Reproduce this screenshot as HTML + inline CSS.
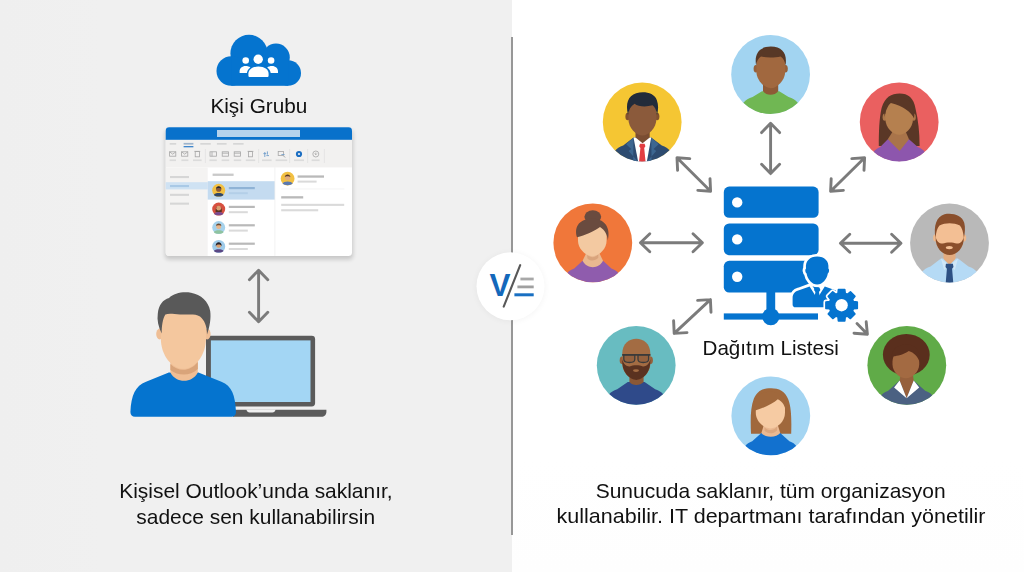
<!DOCTYPE html>
<html lang="tr">
<head>
<meta charset="utf-8">
<title>Kişi Grubu ve Dağıtım Listesi</title>
<style>
html,body{margin:0;padding:0;background:#fff;}
body{width:1024px;height:572px;overflow:hidden;position:relative;font-family:"Liberation Sans",sans-serif;}
svg{position:absolute;left:0;top:0;display:block;}
text{font-family:"Liberation Sans",sans-serif;fill:#111111;}
</style>
</head>
<body>
<svg width="1024" height="572" viewBox="0 0 1024 572">
<defs>
  <linearGradient id="bgL" x1="0" y1="0" x2="1" y2="0">
    <stop offset="0" stop-color="#efefef"/>
    <stop offset="0.2" stop-color="#f0f0f0"/>
    <stop offset="1" stop-color="#f0f0f0"/>
  </linearGradient>
  <linearGradient id="bgR" x1="0" y1="0" x2="0" y2="1">
    <stop offset="0" stop-color="#ffffff"/>
    <stop offset="0.8" stop-color="#ffffff"/>
    <stop offset="1" stop-color="#fefefe"/>
  </linearGradient>
  <filter id="soft" x="-20%" y="-20%" width="140%" height="140%">
    <feGaussianBlur stdDeviation="2.2"/>
  </filter>
  <filter id="soft2" x="-30%" y="-30%" width="160%" height="160%">
    <feGaussianBlur stdDeviation="3"/>
  </filter>
  <clipPath id="av"><circle cx="0" cy="0" r="39.5"/></clipPath>
  <g id="arrowV">
    <!-- vertical double arrow, centred at 0,0, half-length given by scale; drawn for length 54 -->
    <path d="M0 -27 L0 27 M-10 -17 L0 -27 L10 -17 M-10 17 L0 27 L10 17" fill="none" stroke="#787878" stroke-width="2.8" stroke-linecap="round" stroke-linejoin="round"/>
  </g>
</defs>

<!-- ============ BACKGROUNDS ============ -->
<rect x="0" y="0" width="512" height="572" fill="url(#bgL)"/>
<rect x="512" y="0" width="512" height="572" fill="url(#bgR)"/>
<!-- divider -->
<rect x="511" y="37" width="2" height="498" fill="#979797"/>

<!-- ============ LEFT PANEL ============ -->
<g id="left">
<!--LEFT-START-->
  <!-- cloud -->
  <g id="cloud">
    <g fill="#0574cf">
      <circle cx="249" cy="53.4" r="18.6"/>
      <circle cx="276" cy="57.4" r="13.8"/>
      <circle cx="231.3" cy="71" r="14.8"/>
      <circle cx="288.2" cy="73" r="12.8"/>
      <rect x="231.3" y="58" width="56.9" height="27.8"/>
    </g>
    <!-- people in cloud -->
    <g fill="#ffffff">
      <circle cx="245.7" cy="60.5" r="3.3"/>
      <circle cx="271.1" cy="60.5" r="3.3"/>
      <path d="M239.6 73 V71.4 C239.6 68.4 242 66 245.6 66 C247.6 66 249.2 66.5 250.4 67.5 C248.3 69 247.2 71 246.9 73 Z"/>
      <path d="M278 73 V71.4 C278 68.400 275.600 66 272 66 C270 66 268.400 66.500 267.200 67.500 C269.300 69 270.400 71 270.700 73 Z"/>
      <circle cx="258.2" cy="59.3" r="4.7"/>
      <path d="M248.4 75.4 V73.6 C248.4 69.6 252.4 66.6 258.4 66.6 C264.4 66.6 268.6 69.6 268.6 73.6 V75.4 C268.6 76.4 268 77 267 77 H250 C249 77 248.4 76.4 248.4 75.4 Z"/>
    </g>
  </g>

  <!-- outlook window -->
  <g id="owin">
    <rect x="165" y="130" width="188" height="129.4" rx="4" fill="#000" opacity="0.17" filter="url(#soft)"/>
    <rect x="165.7" y="127.3" width="186.3" height="128.6" rx="3.4" fill="#ffffff"/>
    <!-- title bar -->
    <path d="M165.7 140 V130.7 Q165.7 127.3 169.1 127.3 H348.6 Q352 127.3 352 130.7 V140 Z" fill="#0871cb"/>
    <rect x="217" y="130" width="83" height="7" fill="#b4d2ec"/>
    <!-- ribbon -->
    <rect x="165.7" y="139.8" width="186.3" height="27.6" fill="#f2f1f0"/>
    <g fill="#d6d6d6">
      <rect x="169.7" y="143" width="6.5" height="1.7"/>
      <rect x="200.3" y="143" width="10.5" height="1.7"/>
      <rect x="216.9" y="143" width="9.7" height="1.7"/>
      <rect x="233.1" y="143" width="10.5" height="1.7"/>
    </g>
    <rect x="183.6" y="142.9" width="9.8" height="1.7" fill="#9db4cc"/>
    <rect x="183.6" y="146.1" width="9.8" height="1.2" fill="#2d7cc9"/>
    <!-- ribbon icons -->
    <g fill="none" stroke="#a6a6a6" stroke-width="0.8">
      <rect x="169.6" y="151.8" width="6.2" height="4.4"/><path d="M169.6 151.8 L172.7 154.2 L175.8 151.8"/>
      <rect x="181.6" y="151.8" width="6.2" height="4.4"/><path d="M181.6 151.8 L184.7 154.2 L187.8 151.8"/>
      <rect x="195.2" y="151.6" width="4.2" height="5.2"/><path d="M194.4 151.4 H200.2"/>
      <rect x="210" y="151.8" width="6.4" height="4.4"/><path d="M212 151.8 V156.2"/>
      <rect x="222.2" y="151.8" width="6.4" height="4.4"/><path d="M222.2 153.2 H228.6"/>
      <rect x="234.2" y="151.8" width="6.4" height="4.4"/><path d="M234.2 153.2 H240.6"/>
      <rect x="248.4" y="151.6" width="4.2" height="5.2"/><path d="M247.6 151.4 H253.4"/>
      <rect x="278.2" y="151.4" width="5.2" height="4.2"/><path d="M283 155.6 L285.4 157.4"/>
      <circle cx="315.8" cy="154" r="3"/><path d="M315.8 152.6 V154.4 M314.6 153.6 L315.8 154.8 L317 153.6"/>
    </g>
    <g fill="none" stroke="#6f9dcb" stroke-width="0.9">
      <path d="M264.8 152 V157 M267.4 151.4 V154.6 M263.4 153.6 H266.2 M266.4 155.6 H269"/>
      <path d="M281.4 154.6 H284.6"/>
    </g>
    <circle cx="299" cy="154" r="3.1" fill="#1b6ec2"/>
    <circle cx="299" cy="154" r="1.1" fill="#f2f1f0"/>
    <g fill="#dbdbdb">
      <rect x="169.6" y="159.4" width="6.4" height="1.7"/>
      <rect x="181.4" y="159.4" width="7" height="1.7"/>
      <rect x="193" y="159.4" width="8.6" height="1.7"/>
      <rect x="209.4" y="159.4" width="7.4" height="1.7"/>
      <rect x="221.6" y="159.4" width="7.6" height="1.7"/>
      <rect x="233.8" y="159.4" width="7.4" height="1.7"/>
      <rect x="245.8" y="159.4" width="9.4" height="1.7"/>
      <rect x="262" y="159.4" width="9.6" height="1.7"/>
      <rect x="275.6" y="159.4" width="11.6" height="1.7"/>
      <rect x="294" y="159.4" width="10" height="1.7"/>
      <rect x="311.6" y="159.4" width="8" height="1.7"/>
    </g>
    <g stroke="#dcdcdc" stroke-width="0.6">
      <path d="M205.4 149 V163 M258.6 149 V163 M289.6 149 V163 M307.6 149 V163 M324.4 149 V163"/>
    </g>
    <!-- left nav -->
    <path d="M165.7 167.4 H207.7 V255.9 H169.1 Q165.7 255.9 165.7 252.5 Z" fill="#f4f3f2"/>
    <rect x="165.7" y="182.2" width="42" height="7.2" fill="#cfe2f3"/>
    <g fill="#d6d6d6">
      <rect x="170" y="176" width="19" height="2.1"/>
      <rect x="170" y="193.8" width="19" height="2.1"/>
      <rect x="170" y="202.6" width="19" height="2.1"/>
    </g>
    <rect x="170" y="185" width="19" height="2.1" fill="#a9c9e6"/>
    <!-- list -->
    <rect x="207.7" y="181.2" width="67.2" height="18.4" fill="#c4dbf0"/>
    <rect x="212.6" y="173.6" width="21" height="2.3" fill="#c9c9c9"/>
    <path d="M274.9 167.4 V255.9" stroke="#ececec" stroke-width="0.7"/>
    <g fill="#b9b9b9">
      <rect x="228.8" y="205.8" width="26" height="2.2"/>
      <rect x="228.8" y="224.2" width="26" height="2.2"/>
      <rect x="228.8" y="242.6" width="26" height="2.2"/>
      <rect x="297.6" y="175.4" width="26.4" height="2.3"/>
      <rect x="281.2" y="196.2" width="22" height="2.3"/>
    </g>
    <rect x="228.8" y="187" width="26" height="2.2" fill="#8fb3d6"/>
    <rect x="228.8" y="192.2" width="19" height="2" fill="#b3cfe8"/>
    <g fill="#dadada">
      <rect x="228.8" y="211.2" width="19" height="2"/>
      <rect x="228.8" y="229.6" width="19" height="2"/>
      <rect x="228.8" y="248" width="19" height="2"/>
      <rect x="297.6" y="180.6" width="19" height="2"/>
      <rect x="281.2" y="203.8" width="63" height="2.1"/>
      <rect x="281.2" y="209.2" width="37" height="2.1"/>
    </g>
    <path d="M281.2 189 H344.4" stroke="#ececec" stroke-width="0.6"/>
    <!-- list avatars -->
    <g>
      <circle cx="218.7" cy="190.3" r="6.5" fill="#f2c043"/>
      <circle cx="218.7" cy="189.2" r="2.6" fill="#8c5a3a"/>
      <path d="M216 188.8 C216 185.4 221.4 185.4 221.4 188.8 C220.6 187.6 216.8 187.6 216 188.8Z" fill="#2a2a38"/>
      <path d="M213.9 195 C214.6 192.4 222.8 192.4 223.5 195 C222 197 215.4 197 213.9 195Z" fill="#2f4668"/>
      <circle cx="218.7" cy="209.1" r="6.5" fill="#d7503f"/>
      <path d="M215.6 212 C214.8 204 222.6 204 221.8 212Z" fill="#5a3424"/>
      <circle cx="218.7" cy="208.2" r="2.4" fill="#d9a071"/>
      <path d="M214.1 213.9 C214.8 211.4 222.6 211.4 223.3 213.9 C221.8 215.8 215.6 215.8 214.1 213.9Z" fill="#7a4a8e"/>
      <circle cx="218.7" cy="227.5" r="6.5" fill="#a6d2ec"/>
      <circle cx="218.7" cy="226.4" r="2.5" fill="#e8b78e"/>
      <path d="M216.1 226 C216.1 222.8 221.3 222.8 221.3 226 C220.4 224.9 217 224.9 216.1 226Z" fill="#6b4a33"/>
      <path d="M213.9 232.2 C214.6 229.6 222.8 229.6 223.5 232.2 C222 234.2 215.4 234.2 213.9 232.2Z" fill="#8fc3a0"/>
      <circle cx="218.7" cy="246.4" r="6.5" fill="#9ecbea"/>
      <circle cx="218.7" cy="245.3" r="2.5" fill="#d9a071"/>
      <path d="M215.7 246.4 C215.3 241 222.1 241 221.7 246.4 C221 243.9 216.4 243.9 215.7 246.4Z" fill="#26242e"/>
      <path d="M213.9 251.1 C214.6 248.5 222.8 248.5 223.5 251.1 C222 253.1 215.4 253.1 213.9 251.1Z" fill="#5a4784"/>
      <circle cx="287.6" cy="178.7" r="6.9" fill="#f2c043"/>
      <circle cx="287.6" cy="177.5" r="2.7" fill="#e0ab7c"/>
      <path d="M284.8 177.1 C284.8 173.6 290.4 173.6 290.4 177.1 C289.5 175.9 285.7 175.9 284.8 177.1Z" fill="#5a3a28"/>
      <path d="M282.6 183.6 C283.4 180.9 291.8 180.9 292.6 183.6 C291 185.8 284.2 185.8 282.6 183.6Z" fill="#5a78b0"/>
    </g>
  </g>

  <!-- vertical double arrow -->
  <path d="M258.600 270.400 V321.600 M249.400 279.800 L258.600 270.200 L267.800 279.800 M249.400 312.200 L258.600 321.800 L267.800 312.200" fill="none" stroke="#7b7b7b" stroke-width="2.9" stroke-linecap="round" stroke-linejoin="round"/>

  <!-- laptop -->
  <g id="laptop">
    <rect x="206" y="335.8" width="109.1" height="70.6" rx="3.4" fill="#5b5b5b"/>
    <rect x="210.9" y="340.4" width="99.6" height="61.6" fill="#a3d6f4"/>
    <path d="M233 409.8 H326.400 V411.800 C326.400 414.800 324.200 416.800 321.400 416.800 H233 Z" fill="#5b5b5b"/>
    <path d="M246.400 409.600 H275.600 C275.200 411.600 274 412.600 272.400 412.600 H249.600 C248 412.600 246.800 411.600 246.400 409.600Z" fill="#efefef"/>
  </g>

  <!-- person -->
  <g id="person">
    <!-- body -->
    <path d="M130.4 412 C131.2 395 135.4 386 146 381.8 L168.8 372.6 H198.4 L221.4 381.8 C231.8 386 235.200 395 236 412 C236 415 234.2 416.8 231.6 416.8 H135 C132.2 416.8 130.4 415 130.4 412 Z" fill="#0574cf"/>
    <!-- neck -->
    <path d="M170.4 356 H197.8 V372.4 C192 383.6 176 383.6 170.4 372.4 Z" fill="#efbe95"/>
    <path d="M170.4 364 C178 372 190 372 197.8 362 V369 C190 376.6 178 376 170.4 370 Z" fill="#d9a47a"/>
    <!-- ears -->
    <ellipse cx="159.6" cy="334" rx="3.4" ry="5.4" fill="#efbe95"/>
    <ellipse cx="207.2" cy="334" rx="3.4" ry="5.4" fill="#efbe95"/>
    <!-- face -->
    <path d="M160.8 322 C160.8 306 171 301 183.4 301 C195.8 301 206 306 206 322 V338 C206 356 194.6 368.8 183.4 368.8 C172.2 368.8 160.8 356 160.8 338 Z" fill="#f4c79e"/>
    <!-- hair -->
    <path d="M161.7 333.4 C158.4 327 156.8 320 157.8 313.6 C158.6 305 163 299.6 169 298 C174 293 183 291.4 191 292.8 C201 294.600 208.600 301.600 210.200 311 C211.200 318 209.800 327 207 334.400 C207 326 204.500 320 200 316.400 C195 313.400 188 315 180 314.400 C174 314 168.800 313 165.400 314.400 C162.600 319 161.600 326 161.700 333.400 Z" fill="#595959"/>
  </g>
<!--LEFT-END-->
</g>

<!-- ============ CENTER BADGE ============ -->
<g id="badge">
  <circle cx="510.5" cy="287" r="34.4" fill="#000" opacity="0.04" filter="url(#soft2)"/>
  <circle cx="510.5" cy="286.3" r="34" fill="#ffffff"/>
  <text x="500.1" y="295.8" text-anchor="middle" font-size="31" font-weight="bold" style="fill:#1468bb" textLength="21" lengthAdjust="spacingAndGlyphs">V</text>
  <path d="M520.2 265.2 L503.7 306.6" stroke="#585858" stroke-width="2.1" fill="none" stroke-linecap="round"/>
  <path d="M520.4 279 H533.7" stroke="#a8a8a8" stroke-width="2.8" fill="none"/>
  <path d="M517.4 286.9 H533.7" stroke="#a0a0a0" stroke-width="2.8" fill="none"/>
  <path d="M514.4 294.8 H533.7" stroke="#186fc2" stroke-width="3" fill="none"/>
</g>

<!-- ============ RIGHT PANEL ============ -->
<g id="right">
<!--RIGHT-START-->
  <!-- arrows -->
  <g fill="none" stroke="#7b7b7b" stroke-width="2.9" stroke-linecap="round" stroke-linejoin="round">
    <!-- top vertical -->
    <path d="M770.6 123.4 V173.4 M761.6 132.6 L770.6 123.2 L779.6 132.6 M761.6 164.200 L770.6 173.600 L779.6 164.200"/>
    <!-- top-left diagonal -->
    <path d="M677 157.800 L710.600 191.200 M677.600 170.400 L677 157.800 L689.800 158.600 M710 178.600 L710.600 191.200 L697.800 190.400"/>
    <!-- top-right diagonal -->
    <path d="M864.600 157.800 L830.600 191.200 M864 170.400 L864.600 157.800 L851.800 158.600 M831.200 178.600 L830.600 191.200 L843.400 190.400"/>
    <!-- left horizontal -->
    <path d="M640.600 242.800 H702.200 M649.800 233.800 L640.400 242.800 L649.800 251.800 M693 233.800 L702.400 242.800 L693 251.800"/>
    <!-- right horizontal -->
    <path d="M840.600 243.200 H900.800 M849.800 234.200 L840.400 243.200 L849.800 252.200 M891.600 234.200 L901 243.200 L891.600 252.200"/>
    <!-- bottom-left diagonal -->
    <path d="M710.400 299.600 L674.200 333.400 M711 312.200 L710.400 299.600 L697.600 300.400 M673.600 320.800 L674.200 333.400 L687 332.600"/>
    <!-- bottom-right diagonal -->
    <path d="M857 323.600 L867.400 334.200 M866.200 321.800 L867.400 334.200 L854 333.200"/>
  </g>

  <!-- server -->
  <g id="server" fill="#0574cf">
    <rect x="723.8" y="186.6" width="94.8" height="31.2" rx="5.4"/>
    <rect x="723.8" y="223.4" width="94.8" height="31.8" rx="5.4"/>
    <rect x="723.8" y="260.8" width="94.8" height="31.8" rx="5.4"/>
    <rect x="766.4" y="290" width="8.8" height="26"/>
    <rect x="723.8" y="313.4" width="94.2" height="6.2"/>
    <circle cx="770.8" cy="316.6" r="8.6"/>
    <circle cx="737.2" cy="202.4" r="5.2" fill="#ffffff"/>
    <circle cx="737.2" cy="239.4" r="5.2" fill="#ffffff"/>
    <circle cx="737.2" cy="276.8" r="5.2" fill="#ffffff"/>
  </g>

  <!-- admin user + gear with white halo -->
  <g id="admin">
    <g fill="#ffffff" stroke="#ffffff" stroke-width="5.4" stroke-linejoin="round">
      <path d="M806 268.4 C805.2 261 810 256.6 817.2 256.6 C824.4 256.6 829.2 261 828.4 268.4 C829.6 269.4 829.2 272.6 827.8 273.6 C826.8 279.6 822.4 284.6 817.2 284.6 C812 284.6 807.600 279.6 806.600 273.6 C805.200 272.6 804.800 269.400 806 268.4 Z"/>
      <path d="M795.6 307.3 C793.6 307.3 792.6 306.2 792.6 304.4 V298 C792.6 293.6 795 291.4 799 290.2 L809.6 286.4 L817.2 298.4 L824.8 286.4 L835.4 290.2 C839.4 291.4 841.8 293.6 841.8 298 V307.3 Z"/>
    </g>
    <g fill="#0574cf">
      <path d="M806 268.4 C805.2 261 810 256.6 817.2 256.6 C824.4 256.6 829.2 261 828.4 268.4 C829.6 269.4 829.2 272.6 827.8 273.6 C826.8 279.6 822.4 284.6 817.2 284.6 C812 284.6 807.600 279.6 806.600 273.6 C805.200 272.6 804.800 269.400 806 268.4 Z"/>
      <path d="M795.6 307.3 C793.6 307.3 792.6 306.2 792.6 304.4 V298 C792.6 293.6 795 291.4 799 290.2 L809.6 286.4 L817.2 298.4 L824.8 286.4 L835.4 290.2 C839.4 291.4 841.8 293.6 841.8 298 V307.3 Z"/>
      <path d="M815 287.4 H819.4 L820.4 290 L819 292 L820.4 300.4 L817.2 304.4 L814 300.4 L815.4 292 L814 290 Z"/>
    </g>
    <!-- gear -->
    <g id="gear">
      <path d="M837.97 293.45 L838.42 289.52 L844.78 289.52 L845.23 293.45 L847.34 294.32 L850.44 291.86 L854.94 296.36 L852.48 299.46 L853.35 301.57 L857.28 302.02 L857.28 308.38 L853.35 308.83 L852.48 310.94 L854.94 314.04 L850.44 318.54 L847.34 316.08 L845.23 316.95 L844.78 320.88 L838.42 320.88 L837.97 316.95 L835.86 316.08 L832.76 318.54 L828.26 314.04 L830.72 310.94 L829.85 308.83 L825.92 308.38 L825.92 302.02 L829.85 301.57 L830.72 299.46 L828.26 296.36 L832.76 291.86 L835.86 294.32 Z" fill="#ffffff" stroke="#ffffff" stroke-width="5" stroke-linejoin="round"/>
      <path d="M837.97 293.45 L838.42 289.52 L844.78 289.52 L845.23 293.45 L847.34 294.32 L850.44 291.86 L854.94 296.36 L852.48 299.46 L853.35 301.57 L857.28 302.02 L857.28 308.38 L853.35 308.83 L852.48 310.94 L854.94 314.04 L850.44 318.54 L847.34 316.08 L845.23 316.95 L844.78 320.88 L838.42 320.88 L837.97 316.95 L835.86 316.08 L832.76 318.54 L828.26 314.04 L830.72 310.94 L829.85 308.83 L825.92 308.38 L825.92 302.02 L829.85 301.57 L830.72 299.46 L828.26 296.36 L832.76 291.86 L835.86 294.32 Z" fill="#0574cf" stroke="#0574cf" stroke-width="1.6" stroke-linejoin="round"/>
      <circle cx="841.6" cy="305.2" r="12.4" fill="#0574cf"/>
      <circle cx="841.6" cy="305.2" r="6.2" fill="#ffffff"/>
    </g>
  </g>

  <!-- ===== avatars ===== -->
  <!-- 1 top: man green shirt -->
  <g transform="translate(770.6 74.4)">
    <circle r="39.4" fill="#a2d4f1"/>
    <g clip-path="url(#av)">
      <path d="M-30 40 C-30 29 -26 25.400 -18 22.600 L-8.600 16.800 H8.600 L18 22.600 C26 25.400 30 29 30 40 Z" fill="#70b753"/>
      <path d="M-7.600 5 H7.600 V16.800 C4 21.600 -4 21.600 -7.600 16.800 Z" fill="#8e5a36"/>
      <ellipse cx="-14.700" cy="-5.600" rx="2.300" ry="3.800" fill="#96603a"/>
      <ellipse cx="14.900" cy="-5.600" rx="2.300" ry="3.800" fill="#96603a"/>
      <path d="M-14.200 -12 C-14.200 -23 -7 -26 0.200 -26 C7.400 -26 14.600 -23 14.600 -12 V-3 C14.600 6 6.200 13.800 0.200 13.800 C-5.800 13.800 -14.200 6 -14.200 -3 Z" fill="#a1683f"/>
      <path d="M-14.500 -9 C-16.400 -20 -12 -27.800 0.200 -27.800 C12.400 -27.800 16.800 -20 14.900 -9 C14.400 -13.600 12.600 -16.400 10 -18 C4 -16.600 -4 -16.600 -9.600 -18 C-12.200 -16.400 -14 -13.600 -14.500 -9 Z" fill="#583826"/>
    </g>
  </g>
  <!-- 2 top-left: man in suit -->
  <g transform="translate(642.2 121.9)">
    <circle r="39.4" fill="#f5c633"/>
    <g clip-path="url(#av)">
      <path d="M-30 40 C-30 30 -26.400 26.400 -19 23.600 L-8.700 15.700 H9 L19.600 23.600 C27 26.400 30.600 30 30.600 40 Z" fill="#2d4b70"/>
      <path d="M-8.700 15.700 L-16 22.400 L-11 27 L-13.600 29 L-4 40 H-9 Z M9 15.700 L16.400 22.400 L11.400 27 L14 29 L4.600 40 H9.400 Z" fill="#3c6690"/>
      <path d="M-8.700 15.700 H9 L4.600 40 H-4 Z" fill="#ffffff"/>
      <path d="M-2.200 21.800 H2.400 L3.200 24.400 L2 26 L3.400 40 H-3.200 L-1.800 26 L-3 24.400 Z" fill="#e23d41"/>
      <path d="M-6.700 5 H7.500 V15.700 L0.400 21.400 L-6.700 15.700 Z" fill="#7a4d32"/>
      <ellipse cx="-14.600" cy="-5.400" rx="2.200" ry="3.800" fill="#82522f"/>
      <ellipse cx="15" cy="-5.400" rx="2.200" ry="3.800" fill="#82522f"/>
      <path d="M-13.800 -12 C-13.800 -22 -7 -25 0.200 -25 C7.400 -25 14.200 -22 14.200 -12 V-3 C14.200 6 6.200 13.600 0.200 13.600 C-5.800 13.600 -13.800 6 -13.800 -3 Z" fill="#8b5a3b"/>
      <path d="M-14.200 -7 C-16.800 -18 -14.400 -26 -6 -28.600 C2 -31 12 -29 14.600 -22 C16.400 -17 16.200 -12 14.800 -7 C14.200 -12 12.600 -15 10.400 -16.600 C3 -14.600 -4 -15.400 -7.600 -18.200 C-11.400 -16 -13.600 -12 -14.200 -7 Z" fill="#222b3a"/>
    </g>
  </g>
  <!-- 3 top-right: woman long hair -->
  <g transform="translate(899.2 121.9)">
    <circle r="39.4" fill="#ea6060"/>
    <g clip-path="url(#av)">
      <path d="M-20.400 24 C-20.400 10 -20 -4 -17.600 -14 C-14 -25 -8 -28.400 0.400 -28.400 C9 -28.400 14.600 -24 16.400 -13 C19 -2 20.400 10 20.400 24 Z" fill="#5a3726"/>
      <path d="M-28 40 C-28 31 -25 27.600 -19 25 L-11.400 17.300 H9.800 L18.600 25 C25 27.600 28 31 28 40 Z" fill="#8d56ad"/>
      <path d="M-11.400 17.300 L0.400 29.200 L9.800 17.300 L6.200 9 H-6.200 Z" fill="#a9744a"/>
      <ellipse cx="-14.400" cy="-4.700" rx="2.200" ry="3.600" fill="#ad784b"/>
      <ellipse cx="14.400" cy="-4.700" rx="2.200" ry="3.600" fill="#ad784b"/>
      <path d="M-13.800 -10 C-13.800 -19 -8 -22.600 0 -22.600 C8 -22.600 13.800 -19 13.800 -10 V-3 C13.800 6 6 12.800 0 12.800 C-6 12.800 -13.800 6 -13.800 -3 Z" fill="#b5804f"/>
      <path d="M-14.400 -5 C-16 -14 -13.600 -21 -8.300 -24 C-2 -26.400 8 -25 13 -18 C15.400 -13.600 15.600 -8 14.800 -3.600 C12 -10 4 -16 -8.300 -19 C-11.400 -16.600 -13.800 -11 -14.400 -5 Z" fill="#5a3726"/>
    </g>
  </g>
  <!-- 4 left: woman with bun -->
  <g transform="translate(592.8 242.8)">
    <circle r="39.4" fill="#f0773a"/>
    <g clip-path="url(#av)">
      <ellipse cx="0" cy="-26" rx="8.400" ry="6.600" fill="#6a4b3f"/>
      <path d="M-28 40 C-28 31 -25 28 -18.600 25.600 L-10.200 18 H10.200 L18.600 25.600 C25 28 28 31 28 40 Z" fill="#8f5cad"/>
      <path d="M-10.200 18 C-6 26.600 6 26.600 10.200 18 L5.500 8 H-5.500 Z" fill="#e9b890"/>
      <path d="M-5.500 12 C-2 15.600 3 15 5.500 11 V15 C2 18.600 -3 18.400 -5.500 15.400 Z" fill="#d9a47c"/>
      <path d="M-14.800 -8 C-14.800 -18 -8 -21 -0.400 -21 C7.200 -21 13.800 -18 13.800 -8 V-2 C13.800 6.600 5.600 13.400 -0.400 13.400 C-6.400 13.400 -14.800 6.600 -14.800 -2 Z" fill="#f3c9a1"/>
      <path d="M-15.800 -5.600 C-18.400 -14 -15.600 -23.600 -0.400 -24.200 C14.800 -23.600 17.400 -12 15 -2.400 C14.600 -8 12 -13 7.200 -15.800 C2 -11.600 -8 -7.400 -15.800 -5.600 Z" fill="#6a4b3f"/>
    </g>
  </g>
  <!-- 5 bottom-left: bald man with glasses and beard -->
  <g transform="translate(636.2 365.3)">
    <circle r="39.4" fill="#68bcc1"/>
    <g clip-path="url(#av)">
      <path d="M-30 40 C-30 30 -26.400 26.800 -19 24 L-8.400 16.800 H8.400 L19 24 C26.400 26.800 30 30 30 40 Z" fill="#2f4a8a"/>
      <path d="M-6.800 8 H7.400 V16.800 C4 20.800 -4 20.800 -6.800 16.800 Z" fill="#8b5836"/>
      <ellipse cx="-14.300" cy="-5" rx="2.200" ry="3.800" fill="#96603a"/>
      <ellipse cx="14.500" cy="-5" rx="2.200" ry="3.800" fill="#96603a"/>
      <path d="M-14 -11 C-14 -22 -7 -26.600 0.100 -26.600 C7.200 -26.600 14.200 -22 14.200 -11 V-2 C14.200 8 6 14.400 0.100 14.400 C-5.800 14.400 -14 8 -14 -2 Z" fill="#a36c43"/>
      <path d="M-14 -6 C-12.600 -1 -9.600 1.400 -6.600 1.200 C-3 -0.600 3.200 -0.600 6.800 1.200 C9.800 1.400 12.800 -1 14.200 -6 C15 7 6.600 14.600 0.100 14.600 C-6.400 14.600 -14.800 7 -14 -6 Z" fill="#5a3220"/>
      <ellipse cx="-0.200" cy="5.300" rx="3" ry="1.300" fill="#a36c43"/>
      <g stroke="#3a3a3a" stroke-width="1.300" fill="#7d5238" fill-opacity="0.4">
        <path d="M-12.400 -10.600 H-1.400 V-6 C-1.400 -3.600 -3 -2.800 -6.800 -2.800 C-10.800 -2.800 -12.400 -3.600 -12.400 -6 Z"/>
        <path d="M1.800 -10.600 H12.400 V-6 C12.400 -3.600 10.800 -2.800 7 -2.800 C3.400 -2.800 1.800 -3.600 1.800 -6 Z"/>
      </g>
      <path d="M-14 -10.400 H14.200" stroke="#3a3a3a" stroke-width="1.700" fill="none"/>
    </g>
  </g>
  <!-- 6 right: man with beard, tie -->
  <g transform="translate(949.5 243)">
    <circle r="39.4" fill="#b9b9b9"/>
    <g clip-path="url(#av)">
      <path d="M-30 40 C-30 30 -26.600 26.400 -19 23.600 L-8.500 15.600 H8.500 L19 23.600 C26.600 26.400 30 30 30 40 Z" fill="#b5daf5"/>
      <path d="M-6 5 H6 V16 L0 22 L-6 16 Z" fill="#e3ac80"/>
      <path d="M-8.500 15.400 L0 22.600 L-5.400 27 Z M8.500 15.400 L0 22.600 L5.400 27 Z" fill="#cfe7f8"/>
      <path d="M-3.600 20.800 H3.400 L4 24 L2.600 25.800 L3.800 40 H-3.800 L-2.600 25.800 L-4 24 Z" fill="#2d5083"/>
      <ellipse cx="-14.400" cy="-5" rx="2" ry="3.400" fill="#eeb88b"/>
      <ellipse cx="14.700" cy="-5" rx="2" ry="3.400" fill="#eeb88b"/>
      <path d="M-13.600 -12 C-13.600 -21 -7 -24 0.200 -24 C7.400 -24 14 -21 14 -12 V-3 C14 5 6.200 11.600 0.200 11.600 C-5.800 11.600 -13.600 5 -13.600 -3 Z" fill="#f3bf94"/>
      <path d="M-13.800 -6 C-12.600 -1 -10 0.800 -6.800 0.600 C-3 -1 3.400 -1 7.200 0.600 C10.400 0.800 13 -1 14.200 -6 C15 5 7 12 0.200 12 C-6.600 12 -14.600 5 -13.800 -6 Z" fill="#8a4f2c"/>
      <ellipse cx="-0.200" cy="4.600" rx="3.500" ry="1.600" fill="#f3bf94"/>
      <path d="M-14 -5 C-16.200 -17 -13 -26.600 -5 -28.800 C3 -30.400 12.600 -28 14.800 -20 C16 -15 15.400 -10 14.400 -5 C13.800 -11 12.600 -15 10.400 -17.600 C4 -20.400 -4 -20.400 -10 -17.600 C-12.400 -15 -13.400 -11 -14 -5 Z" fill="#8a4f2c"/>
    </g>
  </g>
  <!-- 7 bottom-right: woman afro blazer -->
  <g transform="translate(906.8 365.3)">
    <circle r="39.400" fill="#60ab48"/>
    <g clip-path="url(#av)">
      <ellipse cx="-0.500" cy="-10.600" rx="23.400" ry="20.800" fill="#5a2f1d"/>
      <path d="M-28 40 C-28 31 -25 28 -18.600 25.400 L-7.200 15.300 H6.900 L18.400 25.400 C25 28 28 31 28 40 Z" fill="#4b6182"/>
      <path d="M-7.200 15.300 L-0.200 33 L6.900 15.300 L5.600 6 H-5.600 Z" fill="#96603c"/>
      <path d="M-7.200 15.300 L-12.700 22.300 L-0.200 33 Z M6.900 15.300 L12.400 22.300 L-0.200 33 Z" fill="#ffffff"/>
      <path d="M-14.300 -6 C-14.300 -16 -8 -19.600 -1 -19.600 C6 -19.600 12.400 -16 12.400 -6 V-1 C12.400 7 5 13 -1 13 C-7 13 -14.300 7 -14.300 -1 Z" fill="#a36a42"/>
      <path d="M-15 -2 C-17 -12 -13 -20 -1 -21 C9 -21 14.400 -14 13 -3 C11 -9 7 -13 2 -14.400 C-3 -10.600 -10 -9.600 -13 -9 C-14 -7 -14.800 -5 -15 -2 Z" fill="#5a2f1d"/>
    </g>
  </g>
  <!-- 8 bottom: woman brown hair blue top -->
  <g transform="translate(770.8 415.8)">
    <circle r="39.400" fill="#a4d5f2"/>
    <g clip-path="url(#av)">
      <path d="M-19.800 18 C-20.400 4 -20.400 -8 -17 -17 C-13 -26 -7 -27.600 0.400 -27.600 C8 -27.600 14.400 -25 17.600 -16 C20.600 -8 20.800 4 20.400 18 Z" fill="#a0683c"/>
      <path d="M-28 40 C-28 31 -25 28 -18.600 25.400 L-9.400 17.300 H9.400 L18.600 25.400 C25 28 28 31 28 40 Z" fill="#1271cf"/>
      <path d="M-9.400 17.300 C-6 22.200 6 22.200 9.400 17.300 L6.300 7 H-6.300 Z" fill="#eab992"/>
      <path d="M-6.300 11.600 C-2 15.400 3 14.800 6.300 10.600 V14.600 C2 18.400 -3 18.200 -6.300 15 Z" fill="#dca77e"/>
      <path d="M-15 -9 C-15 -18 -8 -21.600 -0.400 -21.600 C7.200 -21.600 14.200 -18 14.200 -9 V-3 C14.200 6 6 12.600 -0.400 12.600 C-6.800 12.600 -15 6 -15 -3 Z" fill="#f6cba3"/>
      <path d="M-15.600 -5.400 C-18 -14 -15 -23.400 -0.400 -24.400 C14 -23.600 17 -13 15 -4 C14.400 -9.600 12 -14 7 -16.500 C2 -12 -8 -7.400 -15.600 -5.400 Z" fill="#a0683c"/>
    </g>
  </g>
<!--RIGHT-END-->
</g>

</svg>
<svg width="1024" height="572" viewBox="0 0 1024 572" style="will-change:transform">
<!-- ============ TEXT ============ -->
<g id="labels" font-size="20.8">
  <text x="258.9" y="113.2" text-anchor="middle" textLength="97" lengthAdjust="spacingAndGlyphs">Kişi Grubu</text>
  <text x="255.9" y="498.3" text-anchor="middle" textLength="273.4" lengthAdjust="spacingAndGlyphs">Kişisel Outlook’unda saklanır,</text>
  <text x="255.7" y="523.9" text-anchor="middle" textLength="238.7" lengthAdjust="spacingAndGlyphs">sadece sen kullanabilirsin</text>
  <text x="770.7" y="354.7" text-anchor="middle" textLength="136.4" lengthAdjust="spacingAndGlyphs">Dağıtım Listesi</text>
  <text x="770.7" y="497.9" text-anchor="middle" textLength="350" lengthAdjust="spacingAndGlyphs">Sunucuda saklanır, tüm organizasyon</text>
  <text x="771" y="523.1" text-anchor="middle" textLength="428.8" lengthAdjust="spacingAndGlyphs">kullanabilir. IT departmanı tarafından yönetilir</text>
</g>
</svg>
</body>
</html>
